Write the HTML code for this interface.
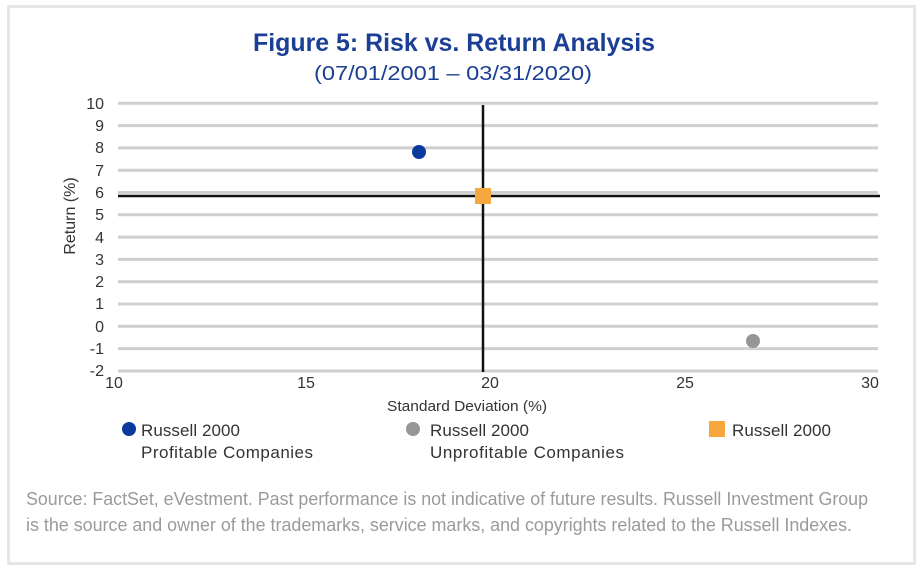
<!DOCTYPE html>
<html><head><style>
body{margin:0;width:920px;height:575px;background:#fff;overflow:hidden;font-family:"Liberation Sans",sans-serif}
</style></head><body>
<svg width="920" height="575" xmlns="http://www.w3.org/2000/svg" font-family="Liberation Sans, sans-serif">
<rect x="8.5" y="6.5" width="906" height="557" fill="#fff" stroke="#e6e6e2" stroke-width="3"/>
<text x="454" y="51" text-anchor="middle" font-size="25" font-weight="bold" fill="#1b3f94" textLength="402" lengthAdjust="spacingAndGlyphs">Figure 5: Risk vs. Return Analysis</text>
<text x="453" y="80" text-anchor="middle" font-size="20" fill="#1b3f94" textLength="278" lengthAdjust="spacingAndGlyphs">(07/01/2001 – 03/31/2020)</text>
<g stroke="#cfcfcf" stroke-width="3">
<line x1="118" x2="878" y1="103.3" y2="103.3"/><line x1="118" x2="878" y1="125.6" y2="125.6"/>
<line x1="118" x2="878" y1="147.9" y2="147.9"/><line x1="118" x2="878" y1="170.2" y2="170.2"/>
<line x1="118" x2="878" y1="192.5" y2="192.5"/><line x1="118" x2="878" y1="214.8" y2="214.8"/>
<line x1="118" x2="878" y1="237.1" y2="237.1"/><line x1="118" x2="878" y1="259.4" y2="259.4"/>
<line x1="118" x2="878" y1="281.7" y2="281.7"/><line x1="118" x2="878" y1="304" y2="304"/>
<line x1="118" x2="878" y1="326.3" y2="326.3"/><line x1="118" x2="878" y1="348.6" y2="348.6"/>
<line x1="118" x2="878" y1="371" y2="371"/>
</g>
<line x1="483" x2="483" y1="105" y2="372" stroke="#111" stroke-width="2.5"/>
<line x1="118" x2="880" y1="196" y2="196" stroke="#111" stroke-width="2.5"/>
<g font-size="16" fill="#333" text-anchor="end">
<text x="104" y="109">10</text><text x="104" y="131">9</text><text x="104" y="153">8</text>
<text x="104" y="176">7</text><text x="104" y="198">6</text><text x="104" y="220">5</text>
<text x="104" y="243">4</text><text x="104" y="265">3</text><text x="104" y="287">2</text>
<text x="104" y="309">1</text><text x="104" y="332">0</text><text x="104" y="354">-1</text>
<text x="104" y="376">-2</text>
</g>
<g font-size="16" fill="#333" text-anchor="middle">
<text x="114" y="388">10</text><text x="306" y="388">15</text><text x="490" y="388">20</text>
<text x="685" y="388">25</text><text x="870" y="388">30</text>
</g>
<text transform="translate(75,216) rotate(-90)" text-anchor="middle" font-size="16" fill="#333">Return (%)</text>
<text x="467" y="411" text-anchor="middle" font-size="15" fill="#333" textLength="160" lengthAdjust="spacingAndGlyphs">Standard Deviation (%)</text>
<circle cx="129" cy="429" r="7" fill="#0a3a9e"/>
<circle cx="413" cy="429" r="7" fill="#969699"/>
<rect x="709" y="421" width="16" height="16" fill="#f5a83e"/>
<circle cx="419" cy="152" r="7" fill="#0a3a9e"/>
<circle cx="753" cy="341" r="7" fill="#969699"/>
<rect x="475" y="188" width="16" height="16" fill="#f5a83e"/>
<g font-size="17" fill="#333" lengthAdjust="spacingAndGlyphs">
<text x="141" y="436" textLength="99">Russell 2000</text><text x="141" y="458" textLength="172">Profitable Companies</text>
<text x="430" y="436" textLength="99">Russell 2000</text><text x="430" y="458" textLength="194">Unprofitable Companies</text>
<text x="732" y="436" textLength="99">Russell 2000</text>
</g>
<g font-size="18" fill="#9a9a9a">
<text x="26" y="505" textLength="842" lengthAdjust="spacingAndGlyphs">Source: FactSet, eVestment. Past performance is not indicative of future results. Russell Investment Group</text>
<text x="26" y="531" textLength="826" lengthAdjust="spacingAndGlyphs">is the source and owner of the trademarks, service marks, and copyrights related to the Russell Indexes.</text>
</g>
</svg>
</body></html>
